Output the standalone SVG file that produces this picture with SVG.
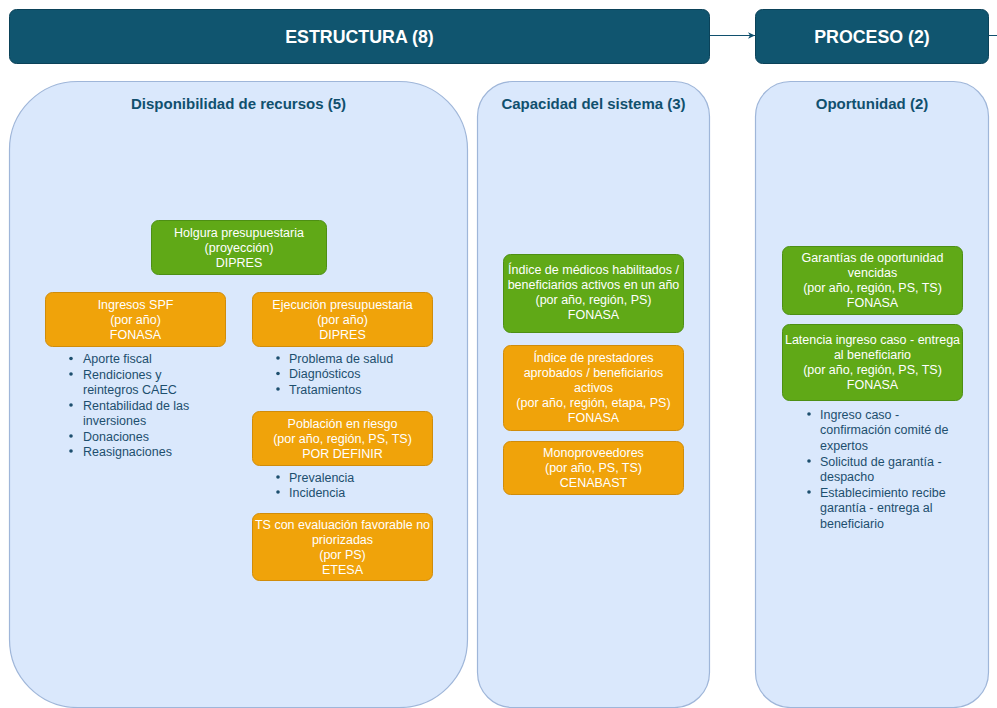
<svg xmlns="http://www.w3.org/2000/svg" width="997" height="708" viewBox="0 0 997 708">
<defs>
<marker id="arr" markerWidth="8" markerHeight="8" refX="7" refY="4" orient="auto" markerUnits="userSpaceOnUse">
<path d="M0,0.8 L7,4 L0,7.2 L2,4 Z" fill="#10506e"/>
</marker>
</defs>
<style>
.hdr{fill:#10556f;stroke:#0b4259;stroke-width:1}
.hdrt{font-family:"Liberation Sans",Arial,sans-serif;font-weight:bold;font-size:17.8px;fill:#ffffff;text-anchor:middle}
.cont{fill:#dae8fc;stroke:#9fb6d9;stroke-width:1.2}
.sub{font-family:"Liberation Sans",Arial,sans-serif;font-weight:bold;font-size:15px;fill:#10506e;text-anchor:middle}
.green{fill:#60a917;stroke:#4d8f14;stroke-width:1}
.orange{fill:#f0a30a;stroke:#d08c0a;stroke-width:1}
.nt{font-family:"Liberation Sans",Arial,sans-serif;font-size:12.5px;fill:#ffffff;text-anchor:middle}
.bt{font-family:"Liberation Sans",Arial,sans-serif;font-size:12.5px;fill:#1d4f6e}
.dot{fill:#1d4f6e}
.conn{stroke:#10506e;stroke-width:1;fill:none}
</style>
<rect width="997" height="708" fill="#ffffff"/>

<g id="connectors">
<line class="conn" x1="710" y1="35.5" x2="755" y2="35.5" marker-end="url(#arr)"/>
<line class="conn" x1="988" y1="35.5" x2="997" y2="35.5"/>
</g>

<g id="estructura">
<rect class="hdr" x="9.5" y="9.5" width="700" height="54" rx="7"/>
<text class="hdrt" x="359.5" y="42.5">ESTRUCTURA (8)</text>
</g>
<g id="proceso">
<rect class="hdr" x="755.5" y="9.5" width="233" height="54" rx="7"/>
<text class="hdrt" x="872" y="42.5">PROCESO (2)</text>
</g>

<g id="disponibilidad">
<rect class="cont" x="9.5" y="81.5" width="458" height="626" rx="68"/>
<text class="sub" x="238.5" y="108.5">Disponibilidad de recursos (5)</text>
</g>
<g id="capacidad">
<rect class="cont" x="477.5" y="81.5" width="232" height="626" rx="35"/>
<text class="sub" x="593.5" y="108.5">Capacidad del sistema (3)</text>
</g>
<g id="oportunidad">
<rect class="cont" x="755.5" y="81.5" width="233" height="626" rx="35"/>
<text class="sub" x="872" y="108.5">Oportunidad (2)</text>
</g>

<g id="holgura">
<rect class="green" x="151.5" y="220.5" width="175" height="54" rx="7"/>
<text class="nt" x="239" y="237">Holgura presupuestaria</text>
<text class="nt" x="239" y="252">(proyección)</text>
<text class="nt" x="239" y="267">DIPRES</text>
</g>

<g id="ingresos">
<rect class="orange" x="45.5" y="292.5" width="180" height="54" rx="7"/>
<text class="nt" x="135.5" y="309">Ingresos SPF</text>
<text class="nt" x="135.5" y="324">(por año)</text>
<text class="nt" x="135.5" y="339">FONASA</text>
</g>
<g id="ingresos-lista">
<circle class="dot" cx="71" cy="358.5" r="1.8"/>
<text class="bt" x="83" y="363">Aporte fiscal</text>
<circle class="dot" cx="71" cy="374" r="1.8"/>
<text class="bt" x="83" y="378.5">Rendiciones y</text>
<text class="bt" x="83" y="394">reintegros CAEC</text>
<circle class="dot" cx="71" cy="405" r="1.8"/>
<text class="bt" x="83" y="409.5">Rentabilidad de las</text>
<text class="bt" x="83" y="425">inversiones</text>
<circle class="dot" cx="71" cy="436" r="1.8"/>
<text class="bt" x="83" y="440.5">Donaciones</text>
<circle class="dot" cx="71" cy="451" r="1.8"/>
<text class="bt" x="83" y="455.5">Reasignaciones</text>
</g>

<g id="ejecucion">
<rect class="orange" x="252.5" y="292.5" width="180" height="54" rx="7"/>
<text class="nt" x="342.5" y="309">Ejecución presupuestaria</text>
<text class="nt" x="342.5" y="324">(por año)</text>
<text class="nt" x="342.5" y="339">DIPRES</text>
</g>
<g id="ejecucion-lista">
<circle class="dot" cx="278" cy="358" r="1.8"/>
<text class="bt" x="289" y="362.5">Problema de salud</text>
<circle class="dot" cx="278" cy="373.5" r="1.8"/>
<text class="bt" x="289" y="378">Diagnósticos</text>
<circle class="dot" cx="278" cy="389" r="1.8"/>
<text class="bt" x="289" y="393.5">Tratamientos</text>
</g>

<g id="poblacion">
<rect class="orange" x="252.5" y="411.5" width="180" height="54" rx="7"/>
<text class="nt" x="342.5" y="428">Población en riesgo</text>
<text class="nt" x="342.5" y="443">(por año, región, PS, TS)</text>
<text class="nt" x="342.5" y="458">POR DEFINIR</text>
</g>
<g id="poblacion-lista">
<circle class="dot" cx="278" cy="477" r="1.8"/>
<text class="bt" x="289" y="481.5">Prevalencia</text>
<circle class="dot" cx="278" cy="492" r="1.8"/>
<text class="bt" x="289" y="496.5">Incidencia</text>
</g>

<g id="ts-evaluacion">
<rect class="orange" x="252.5" y="513.5" width="180" height="67" rx="7"/>
<text class="nt" x="342.5" y="528.5">TS con evaluación favorable no</text>
<text class="nt" x="342.5" y="543.5">priorizadas</text>
<text class="nt" x="342.5" y="558.5">(por PS)</text>
<text class="nt" x="342.5" y="573.5">ETESA</text>
</g>

<g id="indice-medicos">
<rect class="green" x="503.5" y="254.5" width="180" height="78" rx="7"/>
<text class="nt" x="593.5" y="274">Índice de médicos habilitados /</text>
<text class="nt" x="593.5" y="289">beneficiarios activos en un año</text>
<text class="nt" x="593.5" y="304">(por año, región, PS)</text>
<text class="nt" x="593.5" y="319">FONASA</text>
</g>

<g id="indice-prestadores">
<rect class="orange" x="503.5" y="345.5" width="180" height="85" rx="7"/>
<text class="nt" x="593.5" y="361.5">Índice de prestadores</text>
<text class="nt" x="593.5" y="376.5">aprobados / beneficiarios</text>
<text class="nt" x="593.5" y="391.5">activos</text>
<text class="nt" x="593.5" y="406.5">(por año, región, etapa, PS)</text>
<text class="nt" x="593.5" y="421.5">FONASA</text>
</g>

<g id="monoproveedores">
<rect class="orange" x="503.5" y="441.5" width="180" height="53" rx="7"/>
<text class="nt" x="593.5" y="457">Monoproveedores</text>
<text class="nt" x="593.5" y="472">(por año, PS, TS)</text>
<text class="nt" x="593.5" y="487">CENABAST</text>
</g>

<g id="garantias">
<rect class="green" x="782.5" y="246.5" width="180" height="68" rx="7"/>
<text class="nt" x="872.5" y="261.5">Garantías de oportunidad</text>
<text class="nt" x="872.5" y="276.5">vencidas</text>
<text class="nt" x="872.5" y="291.5">(por año, región, PS, TS)</text>
<text class="nt" x="872.5" y="306.5">FONASA</text>
</g>

<g id="latencia">
<rect class="green" x="782.5" y="324.5" width="180" height="76" rx="7"/>
<text class="nt" x="872.5" y="344">Latencia ingreso caso - entrega</text>
<text class="nt" x="872.5" y="359">al beneficiario</text>
<text class="nt" x="872.5" y="374">(por año, región, PS, TS)</text>
<text class="nt" x="872.5" y="389">FONASA</text>
</g>
<g id="latencia-lista">
<circle class="dot" cx="809" cy="414" r="1.8"/>
<text class="bt" x="820" y="418.5">Ingreso caso -</text>
<text class="bt" x="820" y="434">confirmación comité de</text>
<text class="bt" x="820" y="449.5">expertos</text>
<circle class="dot" cx="809" cy="461" r="1.8"/>
<text class="bt" x="820" y="465.5">Solicitud de garantía -</text>
<text class="bt" x="820" y="481">despacho</text>
<circle class="dot" cx="809" cy="492" r="1.8"/>
<text class="bt" x="820" y="496.5">Establecimiento recibe</text>
<text class="bt" x="820" y="512">garantía - entrega al</text>
<text class="bt" x="820" y="527.5">beneficiario</text>
</g>
</svg>
